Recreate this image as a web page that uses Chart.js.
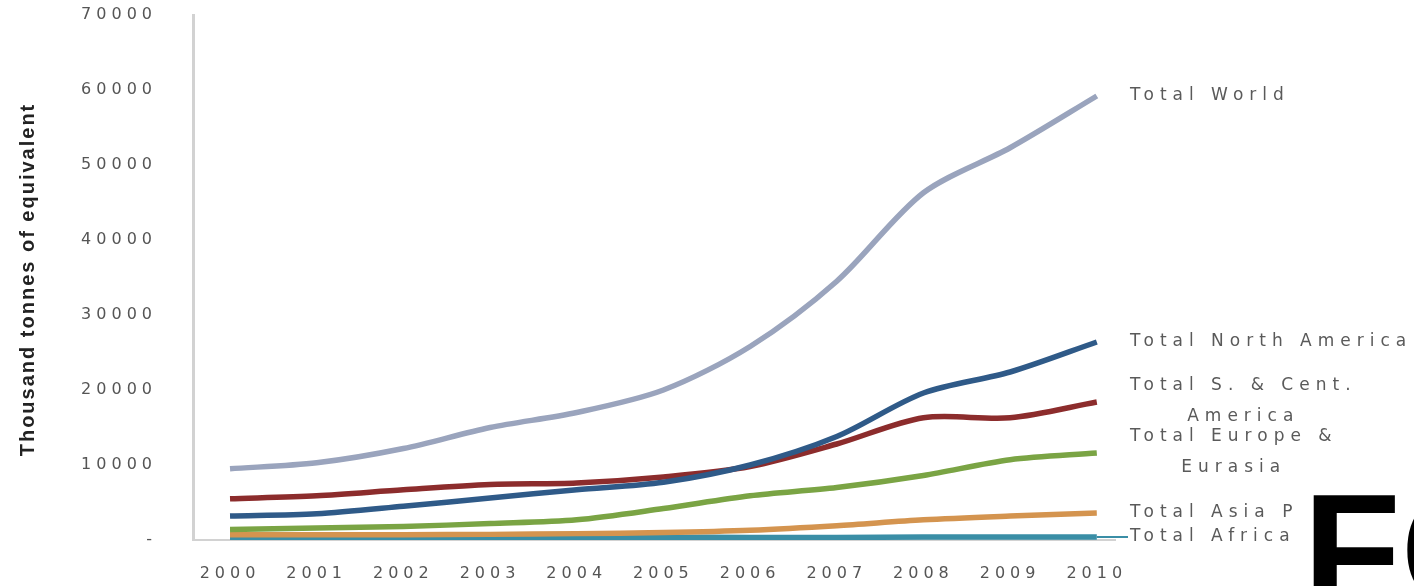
<!DOCTYPE html>
<html>
<head>
<meta charset="utf-8">
<script src="https://cdn.jsdelivr.net/npm/chart.js@4.4.1/dist/chart.umd.min.js"></script>
<style>
  body { margin: 0; background: #fff; }
  #wrap { width: 1414px; height: 586px; }
</style>
</head>
<body>
<div id="wrap"><canvas id="chart" width="1414" height="586"></canvas></div>
<script>
const years = [2000, 2001, 2002, 2003, 2004, 2005, 2006, 2007, 2008, 2009, 2010];

const totalWorld = [9500, 10300, 12200, 15000, 17000, 20000, 25800, 34500, 46300, 52300, 59200];
const totalNorthAmerica = [3200, 3500, 4500, 5600, 6700, 7700, 10000, 13800, 19600, 22400, 26400];
const totalSCentAmerica = [5500, 5900, 6700, 7400, 7600, 8400, 9800, 12800, 16300, 16300, 18400];
const totalEuropeEurasia = [1400, 1600, 1800, 2200, 2700, 4200, 5900, 7000, 8600, 10700, 11600];
const totalAsiaPacific = [700, 700, 700, 750, 850, 1000, 1300, 1900, 2700, 3200, 3600];
const totalAfrica = [300, 300, 300, 300, 300, 350, 350, 350, 400, 400, 400];

const seriesNames = [
  ['Total World'],
  ['Total North America'],
  ['Total S. & Cent.', 'America'],
  ['Total Europe &', 'Eurasia'],
  ['Total Asia Pacific'],
  ['Total Africa']
];
const seriesColors = ['#9aa4bd', '#2f5a88', '#8c2c2c', '#7aa444', '#d4944f', '#3a8ea6'];
const yTicks = [0, 10000, 20000, 30000, 40000, 50000, 60000, 70000];
const yTitle = 'Thousand tonnes of equivalent';

function pts(vals) {
  return years.map((y, i) => ({ x: y, y: vals[i] }));
}

const allSeries = [totalWorld, totalNorthAmerica, totalSCentAmerica, totalEuropeEurasia, totalAsiaPacific, totalAfrica];

// the picture looks stretched sideways, so widen the tick text a bit
const stretchText = {
  id: 'stretchText',
  beforeDraw(chart) { chart.ctx.letterSpacing = '5px'; },
  afterDraw(chart) { chart.ctx.letterSpacing = '0px'; }
};

// names at the right end of the lines, axis title, and the big "FC" at the corner
const endLabels = {
  id: 'endLabels',
  afterDatasetsDraw(chart) {
    const ctx = chart.ctx;
    const area = chart.chartArea;
    const x0 = area.right + 15;
    const nudge = [0, 0, -16, -16, 0, 0];

    // africa has a little leader line into its label
    const africa = chart.getDatasetMeta(5).data;
    const lastA = africa[africa.length - 1];
    ctx.save();
    ctx.strokeStyle = seriesColors[5];
    ctx.lineWidth = 2;
    ctx.beginPath();
    ctx.moveTo(lastA.x, lastA.y);
    ctx.lineTo(x0 - 2, lastA.y);
    ctx.stroke();
    ctx.restore();

    ctx.save();
    ctx.letterSpacing = '6px';
    ctx.font = '17px "DejaVu Sans", sans-serif';
    ctx.fillStyle = '#5a5a5a';
    ctx.textBaseline = 'middle';
    chart.data.datasets.forEach((ds, i) => {
      const meta = chart.getDatasetMeta(i);
      const last = meta.data[meta.data.length - 1];
      const lines = seriesNames[i];
      const y = last.y + nudge[i];
      ctx.textAlign = 'left';
      ctx.fillText(lines[0], x0, y);
      if (lines.length > 1) {
        const w = ctx.measureText(lines[0]).width;
        ctx.textAlign = 'center';
        ctx.fillText(lines[1], x0 + w / 2, y + 31);
      }
    });
    ctx.restore();

    // y axis title
    ctx.save();
    ctx.letterSpacing = '2px';
    ctx.translate(28, (area.top + area.bottom) / 2 + 2);
    ctx.rotate(-Math.PI / 2);
    ctx.font = 'bold 20px "Liberation Sans", Arial, sans-serif';
    ctx.fillStyle = '#222';
    ctx.textAlign = 'center';
    ctx.textBaseline = 'middle';
    ctx.fillText(yTitle, 0, 0);
    ctx.restore();

    ctx.save();
    ctx.letterSpacing = '0px';
    ctx.fillStyle = '#fff';
    ctx.fillRect(1297, 498, 1414 - 1297, 586 - 498);
    ctx.fillStyle = '#000';
    ctx.font = 'bold 160px "Liberation Sans", Arial, sans-serif';
    ctx.textAlign = 'left';
    ctx.textBaseline = 'alphabetic';
    ctx.fillText('FC', 1303, 605);
    ctx.restore();
  }
};

const ctx = document.getElementById('chart');
const chart = new Chart(ctx, {
  type: 'line',
  data: {
    datasets: allSeries.map((s, i) => ({
      label: seriesNames[i].join(' '),
      data: pts(s),
      borderColor: seriesColors[i],
      backgroundColor: seriesColors[i],
      borderWidth: 5.5,
      pointRadius: 0,
      tension: 0.3,
      fill: false
    }))
  },
  options: {
    responsive: false,
    devicePixelRatio: 1,
    animation: false,
    layout: { padding: { top: 15, right: 299, bottom: 0, left: 0 } },
    plugins: {
      legend: { display: false },
      tooltip: { enabled: false }
    },
    scales: {
      x: {
        type: 'linear',
        min: 1999.573,
        max: 2010.21,
        grid: { display: false, drawTicks: false },
        border: { display: true, color: '#d2d2d2', width: 2 },
        afterFit(scale) {
          scale.height = 46;
          scale.paddingLeft = 0;
          scale.paddingRight = 0;
          scale.paddingTop = 0;
          scale.paddingBottom = 0;
        },
        afterBuildTicks(scale) { scale.ticks = years.map(v => ({ value: v })); },
        ticks: {
          autoSkip: false,
          maxRotation: 0,
          padding: 24,
          color: '#555',
          font: { family: '"DejaVu Sans", sans-serif', size: 16 },
          callback: v => String(v)
        }
      },
      y: {
        min: 0,
        max: 70000,
        grid: { display: false, drawTicks: false },
        border: { display: true, color: '#d2d2d2', width: 3 },
        afterFit(scale) {
          scale.width = 193;
          scale.paddingTop = 0;
          scale.paddingBottom = 0;
          scale.paddingLeft = 0;
          scale.paddingRight = 0;
        },
        afterBuildTicks(scale) { scale.ticks = yTicks.map(v => ({ value: v })); },
        ticks: {
          padding: 36,
          color: '#555',
          font: { family: '"DejaVu Sans", sans-serif', size: 16 },
          callback: v => v === 0 ? '-' : String(v)
        }
      }
    }
  },
  plugins: [stretchText, endLabels]
});
</script>
</body>
</html>
